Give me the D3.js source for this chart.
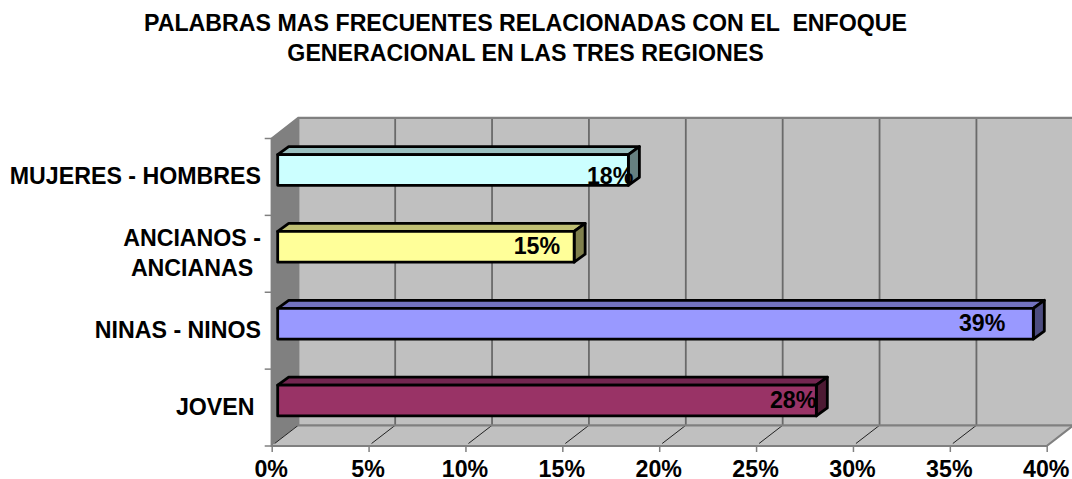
<!DOCTYPE html>
<html>
<head>
<meta charset="utf-8">
<script src="https://cdnjs.cloudflare.com/ajax/libs/d3/7.8.5/d3.min.js"></script>
<style>
  html, body { margin: 0; padding: 0; background: #fff; }
  text { font-family: "Liberation Sans", Arial, sans-serif; font-weight: bold; fill: #000; white-space: pre; }
</style>
</head>
<body>
<div id="chart"></div>
<script>
// DATA
const titleLines = ["PALABRAS MAS FRECUENTES RELACIONADAS CON EL  ENFOQUE", "GENERACIONAL EN LAS TRES REGIONES"];
const categories = ["MUJERES - HOMBRES", "ANCIANOS -\nANCIANAS", "NINAS - NINOS", "JOVEN "];
const values = [18.1, 15.3, 39, 27.8];
const valueLabels = ["18%", "15%", "39%", "28%"];
const ticks = [0, 5, 10, 15, 20, 25, 30, 35, 40];

// bar colours: front, top, side
const fronts = ["#ccffff", "#ffff99", "#9999ff", "#993366"];
const tops = ["#99bfbf", "#bfbf73", "#7373bf", "#732650"];
const sides = ["#668080", "#80804d", "#4d4d80", "#4d1a33"];

// the value labels were dragged by hand in the original
const labelDx = [5, -14, -28, 0];
const labelDy = [-1, -8, -8.5, -8];

const W = 1072, H = 479;
const fontSize = 23.2;
const svg = d3.select("#chart").append("svg").attr("width", W).attr("height", H).style("display", "block");

const x = d3.scaleLinear().domain([0, 40]).range([271.7, 1046.7]);
const y = d3.scaleBand().domain(categories).range([138.5, 446]).paddingInner(0.6).paddingOuter(0.3);

// 3D offsets
const depthX = 26.6, depthY = -20.7;
const barDepthX = 11, barDepthY = -8;
const barStart = 6, barUp = -7;
const plotTop = y.range()[0], plotBottom = y.range()[1];
const poly = pts => pts.map(p => p.join(",")).join(" ");

// walls and floor
svg.append("polygon")
  .attr("points", poly([[x(0) + depthX, plotTop + depthY], [x(40) + depthX, plotTop + depthY], [x(40) + depthX, plotBottom + depthY], [x(0) + depthX, plotBottom + depthY]]))
  .attr("fill", "#c0c0c0");
svg.append("polygon")
  .attr("points", poly([[x(0), plotTop], [x(0) + depthX, plotTop + depthY], [x(0) + depthX, plotBottom + depthY], [x(0), plotBottom]]))
  .attr("fill", "#808080");
svg.append("polygon")
  .attr("points", poly([[x(0), plotBottom], [x(0) + depthX, plotBottom + depthY], [x(40) + depthX, plotBottom + depthY], [x(40), plotBottom]]))
  .attr("fill", "#c0c0c0");

// gridlines
svg.selectAll(".grid").data(ticks.slice(1)).join("line")
  .attr("x1", d => x(d) + depthX).attr("x2", d => x(d) + depthX)
  .attr("y1", plotTop + depthY).attr("y2", plotBottom + depthY)
  .attr("stroke", "#6a6a6a").attr("stroke-width", 1.8);
svg.selectAll(".floor").data(ticks.slice(0, -1)).join("line")
  .attr("x1", d => x(d) + 3).attr("x2", d => x(d) + depthX)
  .attr("y1", plotBottom - 2.5).attr("y2", plotBottom + depthY)
  .attr("stroke", "#222").attr("stroke-width", 1);

// wall edges
const edge = "#808080";
svg.append("path")
  .attr("d", `M${x(0)},${plotTop}L${x(0) + depthX},${plotTop + depthY}H${x(40) + depthX}V${plotBottom + depthY}L${x(40)},${plotBottom}H${x(0)}Z`)
  .attr("fill", "none").attr("stroke", edge).attr("stroke-width", 2.2);
svg.append("path")
  .attr("d", `M${x(0) + depthX},${plotTop + depthY}V${plotBottom + depthY}H${x(40) + depthX}`)
  .attr("fill", "none").attr("stroke", edge).attr("stroke-width", 2.2);

// y ticks
const bandStep = y.step();
svg.selectAll(".ytick").data(d3.range(categories.length + 1)).join("line")
  .attr("x1", x(0) - 7).attr("x2", x(0))
  .attr("y1", i => plotTop + i * bandStep).attr("y2", i => plotTop + i * bandStep)
  .attr("stroke", edge).attr("stroke-width", 1.5);

// x axis
const xAxis = svg.append("g").attr("transform", `translate(0,${plotBottom})`)
  .call(d3.axisBottom(x).tickValues(ticks).tickFormat(d => d + "%").tickSize(6).tickPadding(9));
xAxis.select(".domain").remove();
xAxis.selectAll("line").attr("stroke", edge).attr("stroke-width", 1.5);
xAxis.selectAll("text").attr("font-size", fontSize).attr("dx", -1);

// bars
const bars = svg.selectAll(".bar").data(categories).join("g");
const x0 = x(0) + barStart;
const x1 = (d, i) => x(values[i]) + barStart;
const y0 = d => y(d) + barUp;
const bh = y.bandwidth();
const barStroke = g => g.attr("stroke", "#000").attr("stroke-width", 2.8).attr("stroke-linejoin", "round");

bars.append("polygon")
  .attr("points", (d, i) => poly([[x0, y0(d)], [x0 + barDepthX, y0(d) + barDepthY], [x1(d, i) + barDepthX, y0(d) + barDepthY], [x1(d, i), y0(d)]]))
  .attr("fill", (d, i) => tops[i]).call(barStroke);
bars.append("polygon")
  .attr("points", (d, i) => poly([[x1(d, i), y0(d)], [x1(d, i) + barDepthX, y0(d) + barDepthY], [x1(d, i) + barDepthX, y0(d) + barDepthY + bh], [x1(d, i), y0(d) + bh]]))
  .attr("fill", (d, i) => sides[i]).call(barStroke);
bars.append("rect")
  .attr("x", x0).attr("y", y0)
  .attr("width", (d, i) => x1(d, i) - x0).attr("height", bh)
  .attr("fill", (d, i) => fronts[i]).call(barStroke);

// value labels
bars.append("text")
  .attr("x", (d, i) => x1(d, i) + labelDx[i])
  .attr("y", (d, i) => y0(d) + bh + labelDy[i])
  .attr("text-anchor", "end").attr("font-size", fontSize)
  .text((d, i) => valueLabels[i]);

// category labels, each block centred and pushed against the axis
const labelRight = 261, lineH = 30;
categories.forEach(c => {
  const lines = c.split("\n");
  const g = svg.append("g");
  const t = g.selectAll("text").data(lines).join("text")
    .attr("font-size", fontSize).attr("text-anchor", "middle")
    .attr("xml:space", "preserve")
    .attr("y", (d, i) => y(c) + y.bandwidth() / 2 + 7 + (i - (lines.length - 1) / 2) * lineH)
    .text(d => d);
  const w = d3.max(t.nodes(), n => n.getComputedTextLength());
  t.attr("x", labelRight - w / 2);
});

// title
svg.selectAll(".title").data(titleLines).join("text")
  .attr("x", 525.5).attr("y", (d, i) => 31 + i * 30)
  .attr("text-anchor", "middle").attr("font-size", fontSize)
  .text(d => d);
</script>
</body>
</html>
